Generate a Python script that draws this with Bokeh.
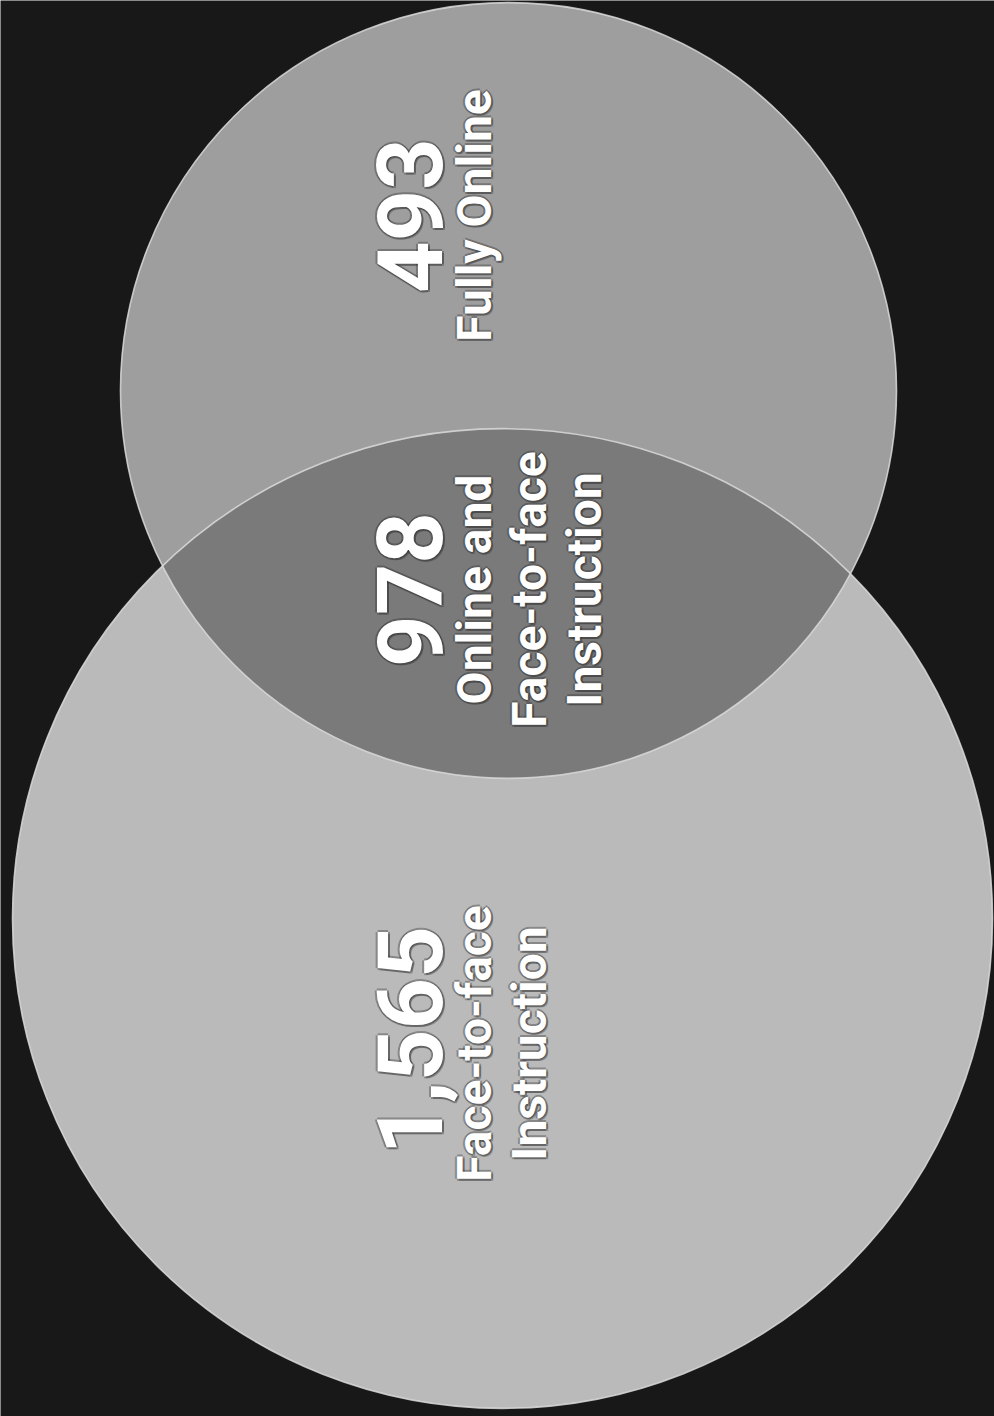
import numpy as np
from bokeh.plotting import figure
from bokeh.models import Range1d, ColumnDataSource
from bokeh.core.properties import value
from bokeh.embed import file_html
from bokeh.resources import INLINE

# ---- data ----
region_names = ["Fully Online", "Online and Face-to-face Instruction", "Face-to-face Instruction"]
region_counts = [493, 978, 1565]
number_labels = ["493", "978", "1,565"]
text_lines = [["Fully Online"], ["Online and", "Face-to-face", "Instruction"], ["Face-to-face", "Instruction"]]

# ---- layout (screen pixels, y downward) ----
W, H = 994, 1416
top_c = (508.0, 390.0, 388.0)   # Fully online circle (cx, cy, r)
bot_c = (502.0, 918.0, 490.0)   # Face-to-face circle
num_pos = [(409, 215), (409, 589), (409, 1040)]
line_x0 = 474
line_dx = 55
line_cy = [215, 589, 1043]

BG = "#181818"
C_TOP = "#9e9e9e"
C_BOT = "#bababa"
C_LENS = "#7a7a7a"
EDGE = "#dcdcdc"
FONT = "Roboto"


def Y(y):
    return H - y


p = figure(width=W, height=H, x_range=Range1d(0, W), y_range=Range1d(0, H),
           output_backend="svg", toolbar_location=None, min_border=0)
p.axis.visible = False
p.grid.visible = False
p.outline_line_color = None
p.background_fill_color = BG
p.border_fill_color = BG

# circles
p.circle(x=[bot_c[0]], y=[Y(bot_c[1])], radius=bot_c[2], fill_color=C_BOT, line_color=None)
p.circle(x=[top_c[0]], y=[Y(top_c[1])], radius=top_c[2], fill_color=C_TOP, line_color=None)

# lens (intersection) polygon from the two circles
t = np.linspace(0, 2 * np.pi, 2000)
x1 = top_c[0] + top_c[2] * np.cos(t); y1 = top_c[1] + top_c[2] * np.sin(t)
x2 = bot_c[0] + bot_c[2] * np.cos(t); y2 = bot_c[1] + bot_c[2] * np.sin(t)
in1 = (x1 - bot_c[0]) ** 2 + (y1 - bot_c[1]) ** 2 <= bot_c[2] ** 2
in2 = (x2 - top_c[0]) ** 2 + (y2 - top_c[1]) ** 2 <= top_c[2] ** 2
lx = np.concatenate([x1[in1], x2[in2]]); ly = np.concatenate([y1[in1], y2[in2]])
cx, cy = lx.mean(), ly.mean()
order = np.argsort(np.arctan2(ly - cy, lx - cx))
p.patch(x=lx[order], y=[Y(v) for v in ly[order]], fill_color=C_LENS, line_color=None)

# edges
p.circle(x=[bot_c[0]], y=[Y(bot_c[1])], radius=bot_c[2], fill_color=None, line_color=EDGE, line_width=1.6, line_alpha=0.85)
p.circle(x=[top_c[0]], y=[Y(top_c[1])], radius=top_c[2], fill_color=None, line_color=EDGE, line_width=1.6, line_alpha=0.85)

# texts
tx, ty, tt, ts = [], [], [], []
for i, lab in enumerate(number_labels):
    tx.append(num_pos[i][0]); ty.append(Y(num_pos[i][1])); tt.append(lab); ts.append("90px")
for i, lines in enumerate(text_lines):
    for j, ln in enumerate(lines):
        tx.append(line_x0 + j * line_dx); ty.append(Y(line_cy[i])); tt.append(ln); ts.append("48px")
src = ColumnDataSource(dict(x=tx, y=ty, text=tt, size=ts))

for ox, oy in [(2, 0), (-2, 0), (0, 2), (0, -2), (2, 2)]:
    p.text(x="x", y="y", text="text", source=src, angle=np.pi / 2,
           text_font=value(FONT), text_font_style="bold", text_font_size="size",
           text_align="center", text_baseline="middle", text_color="#2a2a2a",
           text_alpha=0.35, x_offset=ox, y_offset=oy)
p.text(x="x", y="y", text="text", source=src, angle=np.pi / 2,
       text_font=value(FONT), text_font_style="bold", text_font_size="size",
       text_align="center", text_baseline="middle", text_color="#ffffff")

open("out.html", "w").write(file_html(p, INLINE))
